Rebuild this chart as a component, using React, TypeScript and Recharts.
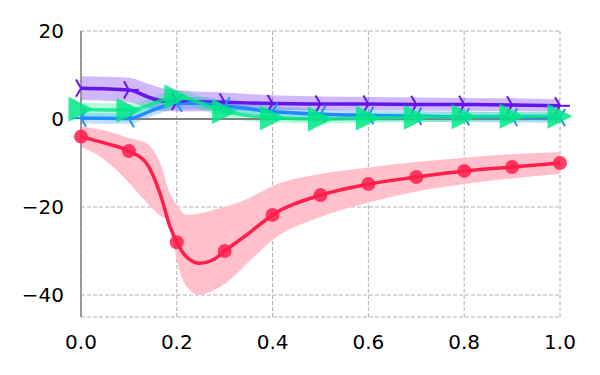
import { ComposedChart, Area, Line, XAxis, YAxis, CartesianGrid, ReferenceLine } from 'recharts';

// red series (circle markers)
const RED_X = [0, 0.05, 0.1, 0.137, 0.165, 0.186, 0.2, 0.22, 0.248, 0.276, 0.3, 0.35, 0.4, 0.5, 0.6, 0.7, 0.8, 0.9, 1.0];
const RED_Y = [-4, -5.5, -7.3, -10.1, -16.9, -24.5, -28, -31.3, -32.8, -32, -30, -26, -21.8, -17.3, -14.8, -13.2, -11.8, -10.9, -10];
const RED_HI = [-1.7, -2.6, -4.3, -5.5, -10, -17, -19.5, -21.8, -21.5, -20.7, -20, -18, -15.2, -12.5, -11, -9.8, -8.8, -8, -7.5];
const RED_LO = [-6.3, -9.3, -14.5, -19, -22, -23.5, -32, -38, -40, -39, -37.5, -32.5, -27.5, -22.3, -19, -16.5, -14.8, -13.5, -12.5];

// purple series (tri_right markers)
const PUR_X = [0, 0.1, 0.14, 0.17, 0.2, 0.3, 0.4, 0.5, 0.6, 0.7, 0.8, 0.9, 1.0];
const PUR_Y = [7.0, 6.6, 5.0, 4.1, 4.0, 3.8, 3.5, 3.4, 3.4, 3.3, 3.3, 3.2, 3.0];
const PUR_HI = [9.7, 9.4, 8.0, 7.0, 6.6, 6.0, 5.4, 5.1, 5.0, 4.9, 4.8, 4.7, 4.5];
const PUR_LO = [4.3, 3.8, 2.5, 1.8, 1.7, 1.9, 2.0, 2.0, 2.0, 1.9, 1.9, 1.8, 1.7];

// blue series (tri_left markers)
const BLU_X = [0, 0.1, 0.15, 0.2, 0.25, 0.3, 0.4, 0.5, 0.6, 0.7, 0.8, 0.9, 1.0];
const BLU_Y = [0.2, 0.1, 2.0, 3.6, 3.6, 3.0, 1.7, 1.1, 0.8, 0.6, 0.5, 0.4, 0.3];
const BLU_HI = [1.4, 1.3, 3.3, 5.0, 5.0, 4.3, 2.9, 2.3, 2.0, 1.8, 1.7, 1.6, 1.5];
const BLU_LO = [-1.0, -1.1, 0.7, 2.2, 2.2, 1.7, 0.5, -0.1, -0.4, -0.6, -0.7, -0.8, -0.9];

// green series (big right triangles)
const GRN_X = [0, 0.1, 0.2, 0.3, 0.4, 0.5, 0.6, 0.7, 0.8, 0.9, 1.0];
const GRN_Y = [2.2, 2.0, 5.0, 1.7, 0.3, 0.0, 0.2, 0.4, 0.5, 0.6, 0.6];
const GRN_HI = [3.7, 3.5, 6.5, 3.2, 1.6, 1.3, 1.4, 1.5, 1.6, 1.7, 1.7];
const GRN_LO = [0.7, 0.6, 3.5, 0.3, -0.8, -1.0, -0.9, -0.7, -0.6, -0.5, -0.5];

const X_TICKS = [0, 0.2, 0.4, 0.6, 0.8, 1.0];
const Y_TICKS = [-40, -20, 0, 20];

const build = (xs: number[], ys: number[], lo: number[], hi: number[]) =>
  xs.map((x, i) => ({ x, y: ys[i], band: [lo[i], hi[i]] }));

const redData = build(RED_X, RED_Y, RED_LO, RED_HI);
const purData = build(PUR_X, PUR_Y, PUR_LO, PUR_HI);
const bluData = build(BLU_X, BLU_Y, BLU_LO, BLU_HI);
const grnData = build(GRN_X, GRN_Y, GRN_LO, GRN_HI);

const RED = '#ff1f4b';
const PURPLE = '#6414ec';
const BLUE = '#1e8cff';
const GREEN = '#00e887';

const onTenth = (x: number) => Math.abs(x * 10 - Math.round(x * 10)) < 1e-6;

const circleDot = (p: any) => {
  if (!onTenth(p.payload.x)) return <g key={p.index} />;
  return <circle key={p.index} cx={p.cx} cy={p.cy} r={7} fill={RED} fillOpacity={0.85} />;
};

const triDot = (color: string, dir: 'left' | 'right') => (p: any) => {
  if (!onTenth(p.payload.x)) return <g key={p.index} />;
  const r = 10;
  const s = dir === 'right' ? 1 : -1;
  const { cx, cy } = p;
  return (
    <g key={p.index} stroke={color} strokeWidth={2} fill="none">
      <line x1={cx} y1={cy} x2={cx + s * r} y2={cy} />
      <line x1={cx} y1={cy} x2={cx - s * r * 0.5} y2={cy - r * 0.866} />
      <line x1={cx} y1={cy} x2={cx - s * r * 0.5} y2={cy + r * 0.866} />
    </g>
  );
};

const triangleDot = (p: any) => {
  if (!onTenth(p.payload.x)) return <g key={p.index} />;
  const r = 12.5;
  const { cx, cy } = p;
  return (
    <polygon
      key={p.index}
      points={`${cx + r},${cy} ${cx - r},${cy - r} ${cx - r},${cy + r}`}
      fill={GREEN}
      fillOpacity={0.85}
    />
  );
};

const tickStyle = { fontSize: 20, fill: '#000', fontFamily: 'DejaVu Sans' };

export default function App() {
  return (
    <div style={{ position: 'absolute', left: 0, top: 0, width: 600, height: 375, background: '#fff' }}>
      <ComposedChart width={600} height={375} margin={{ top: 31, right: 40, left: 0, bottom: 0 }}>
        <CartesianGrid stroke="#b0b0b0" strokeDasharray="4 2" />
        <XAxis
          type="number"
          dataKey="x"
          domain={[0, 1]}
          ticks={X_TICKS}
          tickFormatter={(v) => v.toFixed(1)}
          axisLine={false}
          tickLine={false}
          tickMargin={12}
          height={58}
          tick={tickStyle}
          allowDuplicatedCategory={false}
        />
        <YAxis
          type="number"
          domain={[-45, 20]}
          ticks={Y_TICKS}
          tickFormatter={(v) => (v < 0 ? `\u2212${Math.abs(v)}` : `${v}`)}
          axisLine={{ stroke: '#808080', strokeWidth: 1.5 }}
          tickLine={false}
          tickMargin={11}
          width={81}
          tick={tickStyle}
        />
        <ReferenceLine y={0} stroke="#808080" strokeWidth={2} />
        <Area data={redData} dataKey="band" type="monotone" stroke="none" fill="#ffc0cb" fillOpacity={1} isAnimationActive={false} />
        <Area data={purData} dataKey="band" type="monotone" stroke="none" fill={PURPLE} fillOpacity={0.3} isAnimationActive={false} />
        <Area data={bluData} dataKey="band" type="monotone" stroke="none" fill={BLUE} fillOpacity={0.28} isAnimationActive={false} />
        <Area data={grnData} dataKey="band" type="monotone" stroke="none" fill={GREEN} fillOpacity={0.28} isAnimationActive={false} />
        <Line data={redData} dataKey="y" type="monotone" stroke={RED} strokeWidth={3.5} dot={circleDot} activeDot={false} isAnimationActive={false} />
        <Line data={purData} dataKey="y" type="monotone" stroke={PURPLE} strokeWidth={3.5} dot={triDot(PURPLE, 'right')} activeDot={false} isAnimationActive={false} />
        <Line data={bluData} dataKey="y" type="monotone" stroke={BLUE} strokeWidth={3.5} dot={triDot(BLUE, 'left')} activeDot={false} isAnimationActive={false} />
        <Line data={grnData} dataKey="y" type="monotone" stroke={GREEN} strokeWidth={3.5} strokeOpacity={0.8} dot={triangleDot} activeDot={false} isAnimationActive={false} />
      </ComposedChart>
    </div>
  );
}
